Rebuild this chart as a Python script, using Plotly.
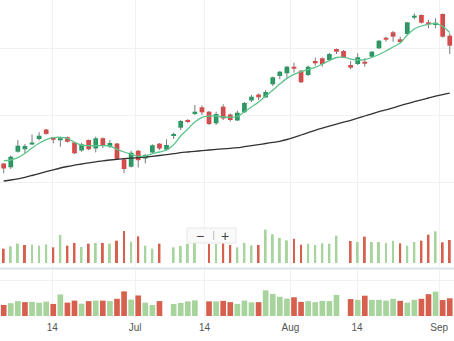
import plotly.graph_objects as go

# ---------------- data ----------------
open_ = [36.5, 32.7, 48.3, 50.7, 55.5, 61.0, 70.5, 62.5, 59.7, 62.8,
         57.5, 49.5, 60.0, 51.5, 61.8, 53.5, 56.5, 40.7, 33.3, 49.3,
         41.5, 47.5, 56.3, 50.3, 64.0, 72.3, 80.0, 86.0, 92.7, 88.3,
         76.7, 93.3, 85.5, 79.5, 87.7, 99.5, 105.5, 102.7, 115.7, 124.0,
         126.7, 133.3, 129.3, 125.0, 139.0, 141.7, 140.0, 151.0, 149.0, 135.0,
         136.0, 138.3, 143.3, 151.7, 162.3, 167.7, 160.7, 166.0, 182.3, 185.0,
         177.7, 175.0, 186.0, 164.3]
high = [37.0, 44.5, 60.0, 56.0, 65.5, 67.8, 71.0, 63.0, 63.2, 63.5,
        58.0, 57.0, 60.5, 63.4, 62.5, 60.0, 57.0, 41.3, 49.3, 50.0,
        46.0, 55.7, 57.0, 60.7, 67.3, 80.0, 81.0, 95.0, 94.5, 89.0,
        88.3, 95.7, 86.5, 89.3, 98.0, 105.0, 106.5, 110.0, 123.5, 129.0,
        134.0, 137.3, 130.0, 134.5, 142.3, 142.5, 147.3, 151.5, 150.0, 139.0,
        146.7, 141.7, 149.0, 160.0, 163.3, 169.0, 163.3, 178.0, 186.7, 185.5,
        180.0, 181.7, 186.5, 166.7]
low = [26.7, 31.0, 47.3, 46.7, 55.0, 59.5, 65.3, 56.7, 53.3, 57.5,
       46.0, 48.3, 49.7, 47.6, 52.0, 52.0, 40.0, 26.7, 32.5, 32.5,
       36.7, 46.7, 50.0, 49.3, 61.0, 70.0, 77.0, 85.0, 85.0, 75.0,
       75.0, 80.0, 78.5, 79.0, 87.0, 98.0, 100.0, 102.0, 114.0, 120.7,
       121.0, 127.3, 117.0, 124.0, 134.3, 133.3, 139.0, 146.0, 142.0, 130.7,
       135.0, 133.3, 142.5, 151.0, 158.3, 158.3, 156.7, 165.0, 180.7, 176.5,
       171.7, 171.7, 162.5, 146.0]
close = [31.5, 43.3, 54.3, 54.0, 57.5, 64.3, 66.1, 60.2, 61.8, 58.2,
         46.7, 55.7, 50.7, 61.7, 54.2, 57.0, 41.0, 31.0, 47.3, 39.8,
         45.0, 54.7, 51.5, 55.0, 66.0, 79.0, 78.0, 88.3, 87.7, 76.0,
         86.0, 81.5, 80.0, 87.3, 97.0, 103.3, 102.7, 108.0, 122.7, 128.3,
         133.3, 131.3, 117.7, 133.3, 136.7, 136.0, 146.0, 148.3, 142.7, 132.3,
         142.7, 136.3, 148.3, 159.3, 160.3, 163.3, 158.0, 177.7, 184.3, 177.3,
         175.7, 177.3, 163.3, 154.3]
ma_fast = [39.3, 40.0, 42.3, 46.7, 52.0, 56.7, 60.3, 62.3, 62.7, 61.7,
           57.7, 55.0, 54.3, 54.3, 54.3, 54.0, 50.7, 48.0, 45.7, 43.7,
           44.0, 46.3, 48.0, 50.0, 55.3, 64.0, 71.0, 78.0, 82.7, 84.0,
           84.0, 83.0, 82.8, 83.5, 88.2, 93.0, 98.0, 104.0, 109.7, 116.0,
           121.6, 125.6, 128.4, 130.4, 132.7, 136.0, 139.4, 142.5, 142.7, 141.0,
           140.0, 140.5, 142.5, 145.5, 149.0, 153.0, 157.0, 165.0, 171.0, 174.0,
           175.7, 176.6, 173.5, 167.5]
ma_slow = [19.0, 20.0, 21.2, 22.7, 24.5, 26.4, 28.3, 30.2, 32.0, 33.5,
           34.8, 36.0, 37.2, 38.2, 39.2, 40.0, 40.7, 41.3, 41.8, 42.4,
           43.0, 43.7, 44.5, 45.4, 46.3, 47.3, 48.0, 48.7, 49.3, 50.0,
           50.6, 51.2, 51.7, 52.3, 53.3, 54.3, 55.4, 56.5, 57.6, 58.7,
           60.5, 62.7, 65.0, 67.3, 69.7, 71.8, 73.8, 75.8, 77.8, 79.7,
           81.8, 84.0, 86.2, 88.3, 90.2, 92.2, 94.3, 96.4, 98.3, 100.2,
           102.0, 103.8, 105.4, 106.8]
volume = [4.3, 5.0, 5.8, 5.4, 5.5, 5.2, 5.6, 4.7, 8.4, 5.2,
          6.0, 4.8, 5.8, 6.0, 6.0, 5.8, 6.7, 9.6, 6.4, 8.0,
          5.2, 4.3, 5.8, None, 4.7, 5.1, 5.7, 6.1, None, 5.7,
          5.7, 5.9, 5.4, 4.7, 6.0, 5.3, 5.4, 10.0, 8.6, 7.5,
          6.8, 7.3, 5.5, 5.8, 5.4, 5.9, 5.8, 8.2, None, 6.6,
          6.3, 7.9, 6.3, 6.3, 6.0, 6.7, 5.9, 5.2, 6.3, 6.7,
          8.5, 9.5, 6.2, 6.9]
vol_up = [0, 1, 1, 0, 1, 1, 1, 0, 1, 0,
          0, 1, 0, 1, 0, 1, 0, 0, 1, 0,
          1, 1, 0, 1, 1, 1, 1, 1, 0, 0,
          1, 0, 0, 1, 1, 1, 0, 1, 1, 1,
          1, 0, 0, 1, 1, 1, 1, 1, 0, 0,
          1, 0, 1, 1, 1, 1, 0, 1, 1, 0,
          0, 1, 0, 0]
tick_slots = [6.86, 18.55, 28.36, 40.5, 49.9, 61.5]
tick_text = ["14", "Jul", "14", "Aug", "14", "Sep"]

# ---------------- styling ----------------
W, H = 454, 341
UP, DOWN = "#14a05c", "#f03c3c"
VUP, VDOWN = "#a6d49c", "#d6604d"
GRID = "#f1f1f1"
n = len(close)
xs = list(range(n))

fig = go.Figure()

# wicks
wx, wy = [], []
for i in xs:
    wx += [i, i, None]
    wy += [low[i], high[i], None]
fig.add_trace(go.Scatter(x=wx, y=wy, mode="lines", line=dict(color="#7a7a7a", width=1),
                         hoverinfo="skip", showlegend=False, xaxis="x", yaxis="y"))

# bodies
base = [min(o, c) for o, c in zip(open_, close)]
hgt = [max(abs(c - o), 0.8) for o, c in zip(open_, close)]
bcol = [UP if c >= o else DOWN for o, c in zip(open_, close)]
fig.add_trace(go.Bar(x=xs, y=hgt, base=base, width=0.66, marker=dict(color=bcol, line=dict(width=0)),
                     showlegend=False, xaxis="x", yaxis="y"))

# moving averages
fig.add_trace(go.Scatter(x=xs, y=ma_slow, mode="lines", line=dict(color="#333333", width=1.3, shape="spline"),
                         showlegend=False, xaxis="x", yaxis="y"))
fig.add_trace(go.Scatter(x=xs, y=ma_fast, mode="lines", line=dict(color="#5cc48c", width=1.3, shape="spline"),
                         showlegend=False, xaxis="x", yaxis="y"))

vcol = [VUP if u else VDOWN for u in vol_up]
# volume (overlay in main pane)
fig.add_trace(go.Bar(x=xs, y=volume, width=0.28, marker=dict(color=vcol, line=dict(width=0)),
                     showlegend=False, xaxis="x", yaxis="y2"))
# volume (navigator pane)
fig.add_trace(go.Bar(x=xs, y=volume, width=0.8, marker=dict(color=vcol, line=dict(width=0)),
                     showlegend=False, xaxis="x2", yaxis="y3"))

xr = [-0.5226, 63.60]
def py(p):
    return 1 - p / H

fig.update_layout(
    width=W, height=H, margin=dict(l=0, r=0, t=0, b=0),
    paper_bgcolor="white", plot_bgcolor="white", barmode="overlay",
    font=dict(family="Arial, Liberation Sans, sans-serif", size=10, color="#555"),
    xaxis=dict(domain=[0, 1], range=xr, anchor="y", tickvals=tick_slots, showticklabels=False,
               showgrid=True, gridcolor=GRID, gridwidth=1, zeroline=False, showline=False, ticks=""),
    yaxis=dict(domain=[py(267), 1], range=[-67, 200], tickvals=[17.7, 85.0, 151.7],
               showticklabels=False, showgrid=True, gridcolor=GRID, zeroline=False, ticks=""),
    yaxis2=dict(overlaying="y", range=[-1.2, 78.9], showgrid=False, showticklabels=False,
                zeroline=False, ticks=""),
    xaxis2=dict(domain=[0, 1], range=xr, anchor="y3", tickvals=tick_slots, ticktext=tick_text,
                showgrid=True, gridcolor=GRID, zeroline=False, showline=False, ticks="",
                ticklabelstandoff=2, tickfont=dict(size=10, color="#555")),
    yaxis3=dict(domain=[py(318), py(270)], range=[-0.78, 17.92], tickvals=[13.75],
                showticklabels=False, showgrid=True, gridcolor=GRID, zeroline=False, ticks=""),
)

# pane separator
fig.add_shape(type="line", xref="paper", yref="paper", x0=0, x1=1, y0=py(268.5), y1=py(268.5),
              line=dict(color="#dde3ea", width=2))
# zoom control
fig.add_shape(type="rect", xref="paper", yref="paper", x0=187 / W, x1=236 / W, y0=py(243), y1=py(228),
              fillcolor="rgba(250,250,250,0.95)", line=dict(color="#e6e6e6", width=1))
fig.add_shape(type="line", xref="paper", yref="paper", x0=213.7 / W, x1=213.7 / W, y0=py(240), y1=py(231),
              line=dict(color="#bbbbbb", width=1))
fig.add_annotation(x=199.5 / W, y=py(235.5), xref="paper", yref="paper", text="−", showarrow=False,
                   xanchor="center", yanchor="middle", font=dict(size=14, color="#444"))
fig.add_annotation(x=224.5 / W, y=py(235.5), xref="paper", yref="paper", text="+", showarrow=False,
                   xanchor="center", yanchor="middle", font=dict(size=14, color="#444"))

fig.write_html("out.html")
